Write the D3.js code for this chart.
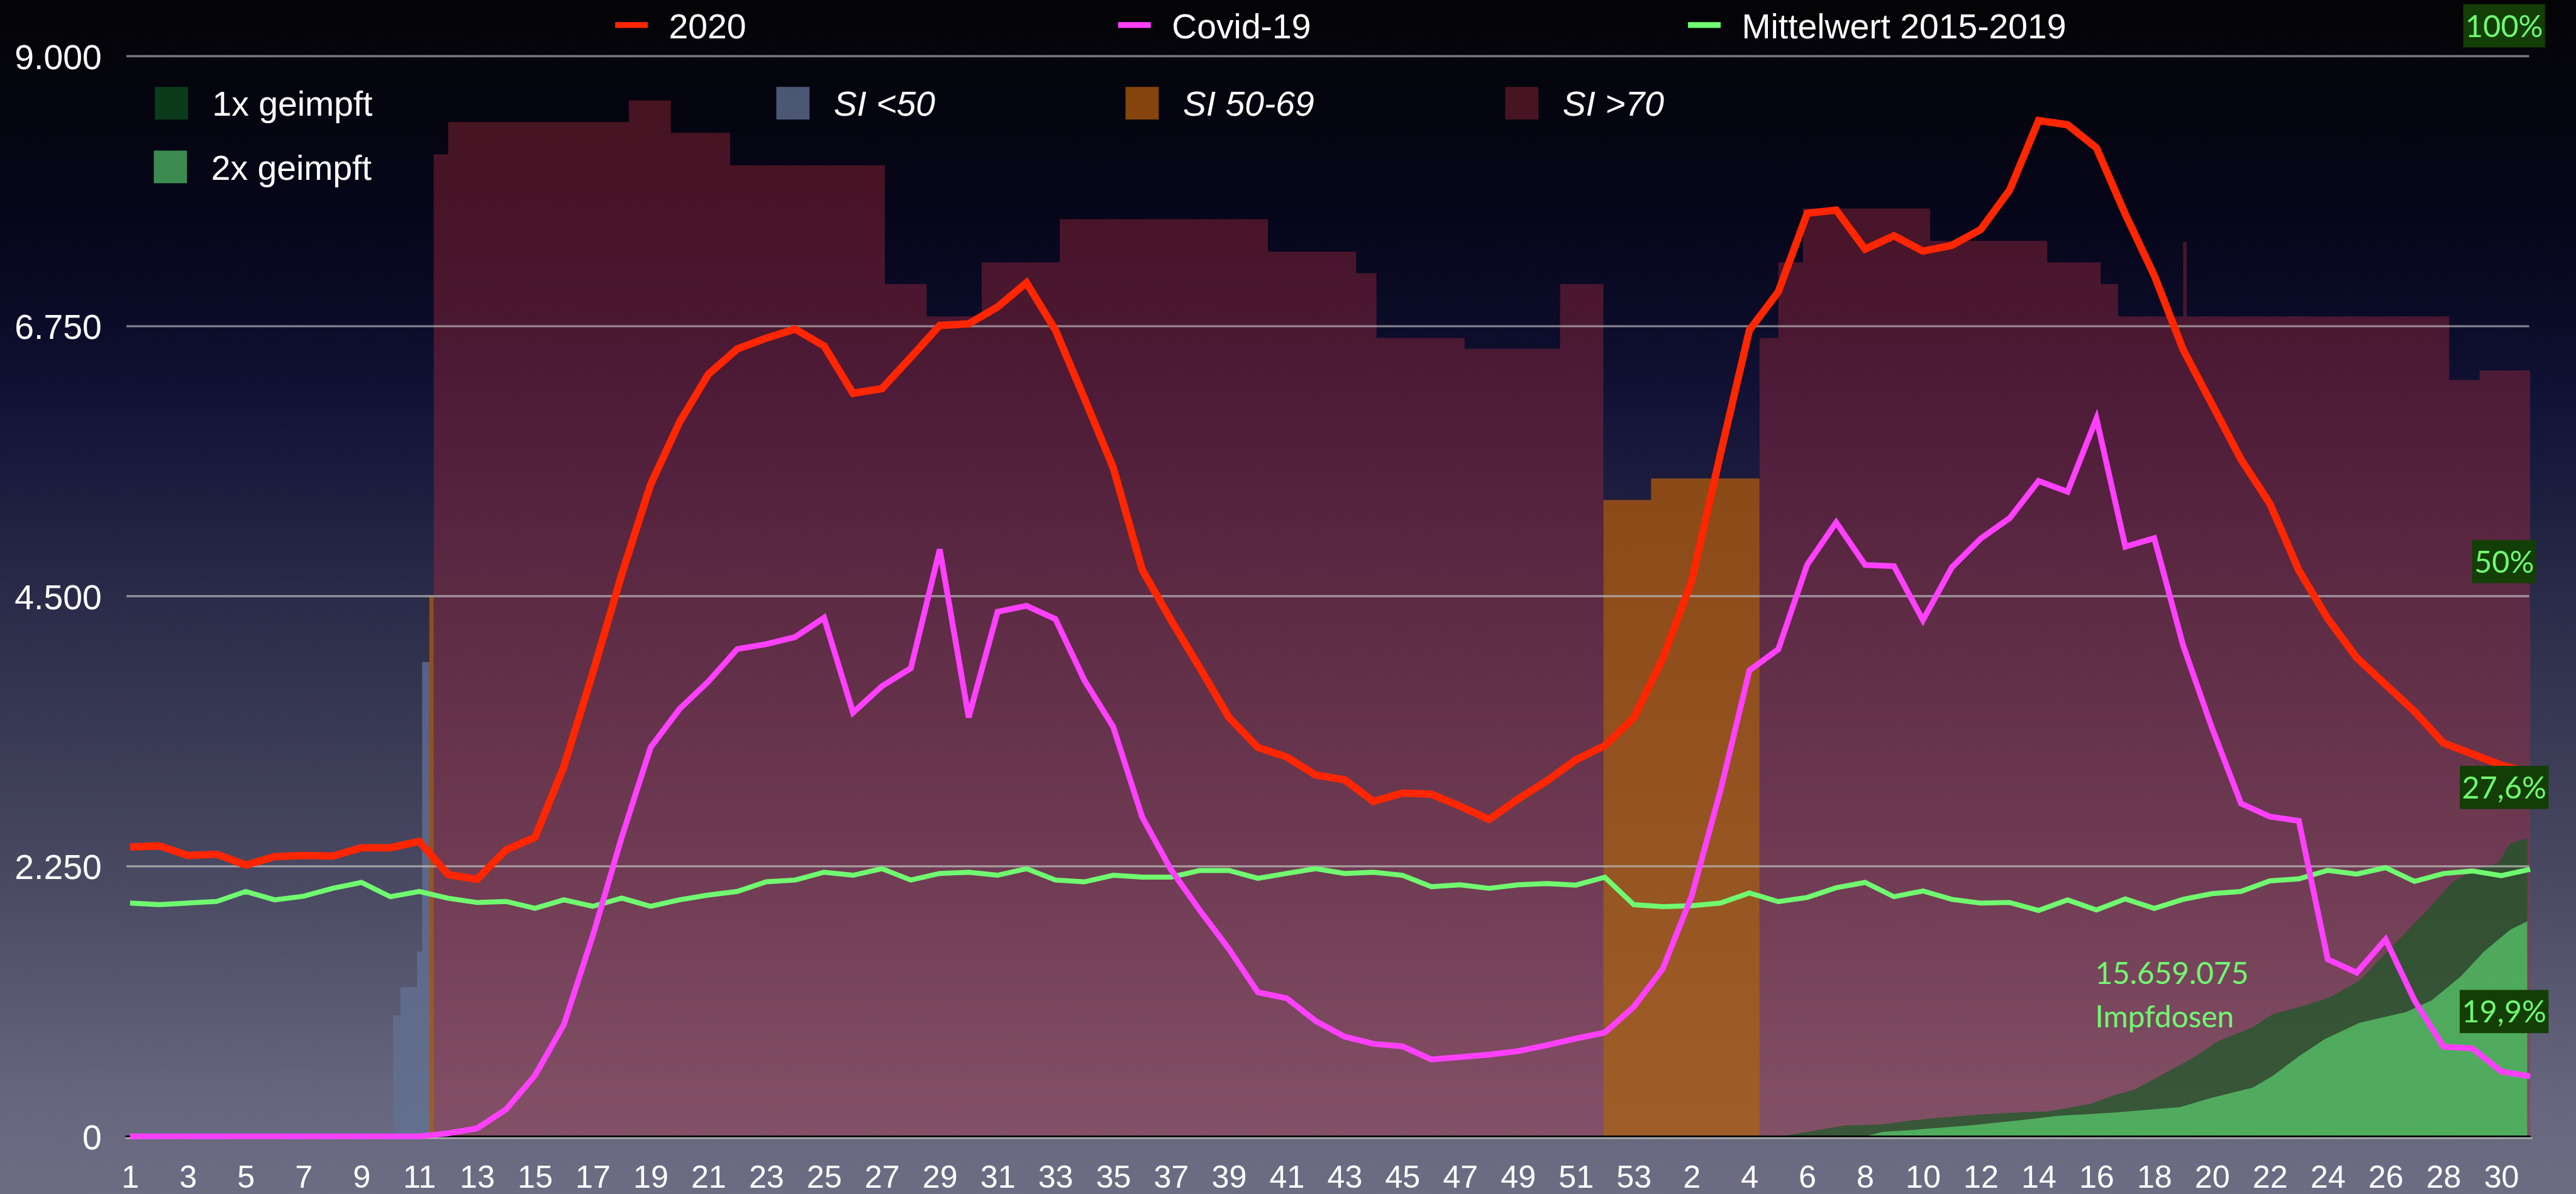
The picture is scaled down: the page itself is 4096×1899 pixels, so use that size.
<!DOCTYPE html>
<html><head><meta charset="utf-8">
<script src="https://cdn.jsdelivr.net/npm/d3@7"></script>
<style>html,body{margin:0;padding:0;background:#000;overflow:hidden}</style>
</head><body>
<svg id="chart" width="4096" height="1899"></svg>
<script>
// ---------- DATA ----------
const weeks2020 = d3.range(1, 54);
const weeks2021 = d3.range(1, 32);
const weekLabels = [...weeks2020, ...weeks2021];

const deaths2020 = [2410,2420,2340,2350,2260,2330,2340,2334,2404,2404,2457,2180,2141,2386,2490,3080,3860,4680,5430,5950,
  6350,6560,6650,6725,6585,6190,6230,6490,6756,6769,6910,7112,6717,6150,5570,4720,4300,3900,3490,3240,
  3160,3010,2970,2790,2860,2850,2750,2640,2810,2961,3137,3255,3488,3979,4624,5686,6717,7037,7690,7717,
  7392,7502,7375,7423,7555,7884,8463,8428,8235,7682,7173,6554,6098,5640,5270,4716,4312,3988,3764,3540,
  3277,3185,3093,3030];

const covid19 = [0,0,0,0,0,0,0,0,0,0,0,25,66,224,506,930,1670,2490,3240,3560,
  3790,4060,4100,4160,4320,3530,3750,3900,4890,3490,4370,4420,4310,3800,3410,2660,2220,1880,1560,1200,
  1150,960,830,770,750,640,660,680,710,760,815,864,1079,1395,2000,2882,3882,4058,4764,5115,
  4760,4750,4300,4740,4980,5150,5460,5370,5980,4913,4983,4088,3400,2773,2663,2628,1474,1364,1641,1132,
  746,733,540,500];

const mean2015_2019 = [1943,1930,1943,1957,2040,1970,2000,2066,2115,1996,2040,1983,1948,1957,1900,1970,1916,1985,1916,1970,
  2010,2040,2120,2135,2200,2175,2230,2135,2190,2200,2175,2230,2135,2120,2175,2160,2160,2215,2215,2150,
  2190,2230,2190,2200,2175,2080,2095,2066,2095,2106,2093,2158,1930,1913,1921,1943,2027,1955,1990,2071,
  2115,1996,2044,1974,1943,1948,1882,1970,1886,1978,1899,1974,2022,2040,2128,2145,2216,2185,2238,2124,
  2189,2211,2172,2224];

// Stringency index: step start (week index, fractional) and value (0-100)
const siStart = [0, 9.1, 9.35, 9.92, 10.1, 10.35, 10.5, 11.0, 17.25, 18.7, 20.75, 26.1, 27.55, 29.45, 32.15, 39.35, 42.4,
  43.1, 46.15, 49.45, 50.95, 52.6, 56.35, 57.0, 57.85, 62.25, 66.3, 68.15, 68.75, 71.0, 71.12, 80.2, 81.25, 83];
const siValue = [0, 11.2, 13.8, 17.1, 43.9, 50.0, 90.9, 93.9, 95.9, 92.9, 89.9, 78.9, 75.9, 80.9, 84.9, 81.9, 79.9,
  73.9, 72.9, 78.9, 58.9, 60.9, 73.9, 80.9, 85.9, 82.9, 80.9, 78.9, 75.9, 82.8, 75.9, 70.0, 70.9, 70.9];

// Vaccination (% of population), by fractional week index
const vax1Idx = [57.1, 58.0, 59.3, 60.6, 61.7, 62.5, 63.9, 65.2, 66.3, 67.8, 68.6, 69.3, 70.2, 71.3, 72.2, 73.4, 74.1,
  75.2, 76.1, 77.1, 78.2, 79.5, 80.3, 81.1, 81.9, 82.3, 82.9];
const vax1Pct = [0, 0.4, 1.0, 1.1, 1.5, 1.7, 2.0, 2.2, 2.3, 3.0, 3.8, 4.3, 5.6, 7.2, 8.8, 10.1, 11.3,
  12.1, 12.9, 14.4, 17.5, 21.1, 23.5, 24.7, 25.3, 27.1, 27.6];
const vax2Idx = [60.0, 60.6, 61.7, 63.6, 65.4, 66.7, 68.6, 70.9, 71.9, 73.4, 74.1, 75.0, 75.9, 77.1, 78.7, 79.6, 80.6,
  81.4, 82.3, 82.9];
const vax2Pct = [0, 0.4, 0.6, 1.0, 1.5, 1.9, 2.2, 2.7, 3.5, 4.5, 5.6, 7.4, 9.0, 10.5, 11.5, 12.6, 14.8,
  17.1, 19.1, 19.9];

const yTicks = [0, 2250, 4500, 6750, 9000];
const pctLabels = ["100%", "50%", "27,6%", "19,9%"];
const pctLabelPos = [102.8, 53.2, 32.3, 11.55];
const dosesText = ["15.659.075", "Impfdosen"];

const lineSeries = ["2020", "Covid-19", "Mittelwert 2015-2019"];
const lineColors = ["#ff2600", "#ff40ff", "#70fa70"];
const areaSeries = ["1x geimpft", "2x geimpft", "SI <50", "SI 50-69", "SI >70"];

// ---------- LAYOUT (reference units, scaled to window) ----------
const W0 = 4891, H0 = 2268, S = 4096 / 4891;
const svg = d3.select("#chart");
const defs = svg.append("defs");
const bg = defs.append("linearGradient").attr("id", "bg").attr("x1", 0).attr("y1", 0).attr("x2", 0).attr("y2", 1);
[[0, "#040406"], [0.18, "#06061a"], [0.27, "#0b0c28"], [0.34, "#121336"], [0.5, "#2a2b48"],
 [0.75, "#4b4b64"], [0.92, "#66677e"], [1, "#6c6d83"]].forEach(([o, c]) =>
  bg.append("stop").attr("offset", o).attr("stop-color", c));

const g = svg.append("g").attr("transform", `scale(${S})`);
g.append("rect").attr("width", W0).attr("height", H0).attr("fill", "url(#bg)");

const x = d3.scaleLinear().domain([0, 83]).range([247, 4804]);
const y = d3.scaleLinear().domain([0, 9000]).range([2158, 106.5]);
const yP = d3.scaleLinear().domain([0, 100]).range([2158, 106.5]);

// ---------- SI areas ----------
const cat = v => v < 50 ? 0 : (v < 70 ? 1 : 2);
const siFills = [["rgb(98,113,148)", 0.76], ["rgb(176,90,12)", 0.75], ["rgb(170,42,62)", 0.4]];
const siArea = d3.area().curve(d3.curveStepAfter).x(d => x(d[0])).y0(yP(0)).y1(d => yP(d[1]));
[0, 1, 2].forEach(c => {
  const pts = siStart.map((s, k) => [s, cat(siValue[k]) === c ? siValue[k] : 0]);
  g.append("path").attr("d", siArea(pts)).attr("fill", siFills[c][0]).attr("fill-opacity", siFills[c][1]);
});

// ---------- Vaccination areas ----------
const vArea = d3.area().x(d => x(d[0])).y0(yP(0)).y1(d => yP(d[1]));
const vaxFills = [["rgb(16,91,31)", 0.64], ["rgb(97,228,120)", 0.6]];
g.append("path").attr("d", vArea(vax1Idx.map((v, k) => [v, vax1Pct[k]])))
  .attr("fill", vaxFills[0][0]).attr("fill-opacity", vaxFills[0][1]);
g.append("path").attr("d", vArea(vax2Idx.map((v, k) => [v, vax2Pct[k]])))
  .attr("fill", vaxFills[1][0]).attr("fill-opacity", vaxFills[1][1]);

// ---------- gridlines ----------
yTicks.filter(t => t > 0).forEach(t => {
  [-1.1, 1.1].forEach(o => g.append("line").attr("x1", 240).attr("x2", 4802)
    .attr("y1", y(t) + o).attr("y2", y(t) + o).attr("stroke", "#b8b8b8").attr("stroke-width", 1.4));
});
// baseline
g.append("line").attr("x1", 238).attr("x2", 4808).attr("y1", 2161.5).attr("y2", 2161.5)
  .attr("stroke", "#b0aeae").attr("stroke-width", 3);
g.append("line").attr("x1", 238).attr("x2", 4805).attr("y1", 2158).attr("y2", 2158)
  .attr("stroke", "#000").attr("stroke-width", 3);

// ---------- lines ----------
const line = d3.line().x((d, i) => x(i)).y(d => y(d)).curve(d3.curveLinear);
[[mean2015_2019, 2, 9.5], [covid19, 1, 11], [deaths2020, 0, 14]].forEach(([data, ci, w]) => {
  g.append("path").attr("d", line(data)).attr("fill", "none").attr("stroke", lineColors[ci])
    .attr("stroke-width", w).attr("stroke-linejoin", "miter").attr("stroke-miterlimit", 4);
});

// ---------- axes ----------
const de = d3.formatLocale({decimal: ",", thousands: ".", grouping: [3], currency: ["", "€"]});
const fmt = de.format(",");
const yAx = g.append("g").attr("transform", "translate(240,0)")
  .call(d3.axisLeft(y).tickValues(yTicks).tickFormat(fmt).tickSize(0).tickPadding(47));
yAx.select(".domain").remove();
yAx.selectAll("text").attr("fill", "#fff").attr("font-family", "'Liberation Sans', Arial, sans-serif")
  .attr("font-size", 66).attr("dy", "0.36em");

const xAx = g.append("g").attr("transform", "translate(0,2158)")
  .call(d3.axisBottom(x).tickValues(d3.range(0, 83, 2)).tickFormat(i => weekLabels[i]).tickSize(0).tickPadding(55));
xAx.select(".domain").remove();
xAx.selectAll("text").attr("fill", "#fff").attr("font-family", "'Liberation Sans', Arial, sans-serif")
  .attr("font-size", 60);

// ---------- legends ----------
const lf = "'Liberation Sans', Arial, sans-serif";
const topLegX = [1168, 2123, 3205];
lineSeries.forEach((name, k) => {
  g.append("rect").attr("x", topLegX[k]).attr("y", 42).attr("width", 62).attr("height", 11).attr("fill", lineColors[k]);
  g.append("text").attr("x", topLegX[k] + 102).attr("y", 73).attr("fill", "#fff")
    .attr("font-family", lf).attr("font-size", 66).text(name);
});
const areaLeg = [
  {x: 294, row: 0, fill: vaxFills[0], italic: false},
  {x: 292, row: 1, fill: vaxFills[1], italic: false},
  {x: 1474, row: 0, fill: siFills[0], italic: true},
  {x: 2137, row: 0, fill: siFills[1], italic: true},
  {x: 2858, row: 0, fill: siFills[2], italic: true}
];
areaSeries.forEach((name, k) => {
  const L = areaLeg[k];
  g.append("rect").attr("x", L.x).attr("y", 165 + L.row * 121).attr("width", 63).attr("height", 62)
    .attr("fill", L.fill[0]).attr("fill-opacity", L.fill[1]);
  g.append("text").attr("x", L.x + 109).attr("y", 220 + L.row * 121).attr("fill", "#fff")
    .attr("font-family", lf).attr("font-size", 66).attr("font-style", L.italic ? "italic" : "normal").text(name);
});

// ---------- percent labels ----------
const pf = "Lato, 'Open Sans', sans-serif";
pctLabels.forEach((lab, k) => {
  const cx = x(82.1), cy = yP(pctLabelPos[k]);
  const grp = g.append("g");
  const t = grp.append("text").attr("x", cx).attr("y", cy).attr("dy", "0.36em").attr("text-anchor", "middle")
    .attr("fill", "#70f870").attr("font-family", pf).attr("font-size", 58).text(lab);
  const bb = t.node().getBBox();
  grp.insert("rect", "text").attr("x", cx - bb.width / 2 - 4).attr("y", cy - 41).attr("width", bb.width + 8)
    .attr("height", 82).attr("fill", "#133e06");
});

// ---------- doses annotation ----------
dosesText.forEach((s, k) => {
  g.append("text").attr("x", 3978).attr("y", 1869 + k * 82).attr("fill", "#72f572")
    .attr("font-family", pf).attr("font-size", 57).text(s);
});
</script>
</body></html>
